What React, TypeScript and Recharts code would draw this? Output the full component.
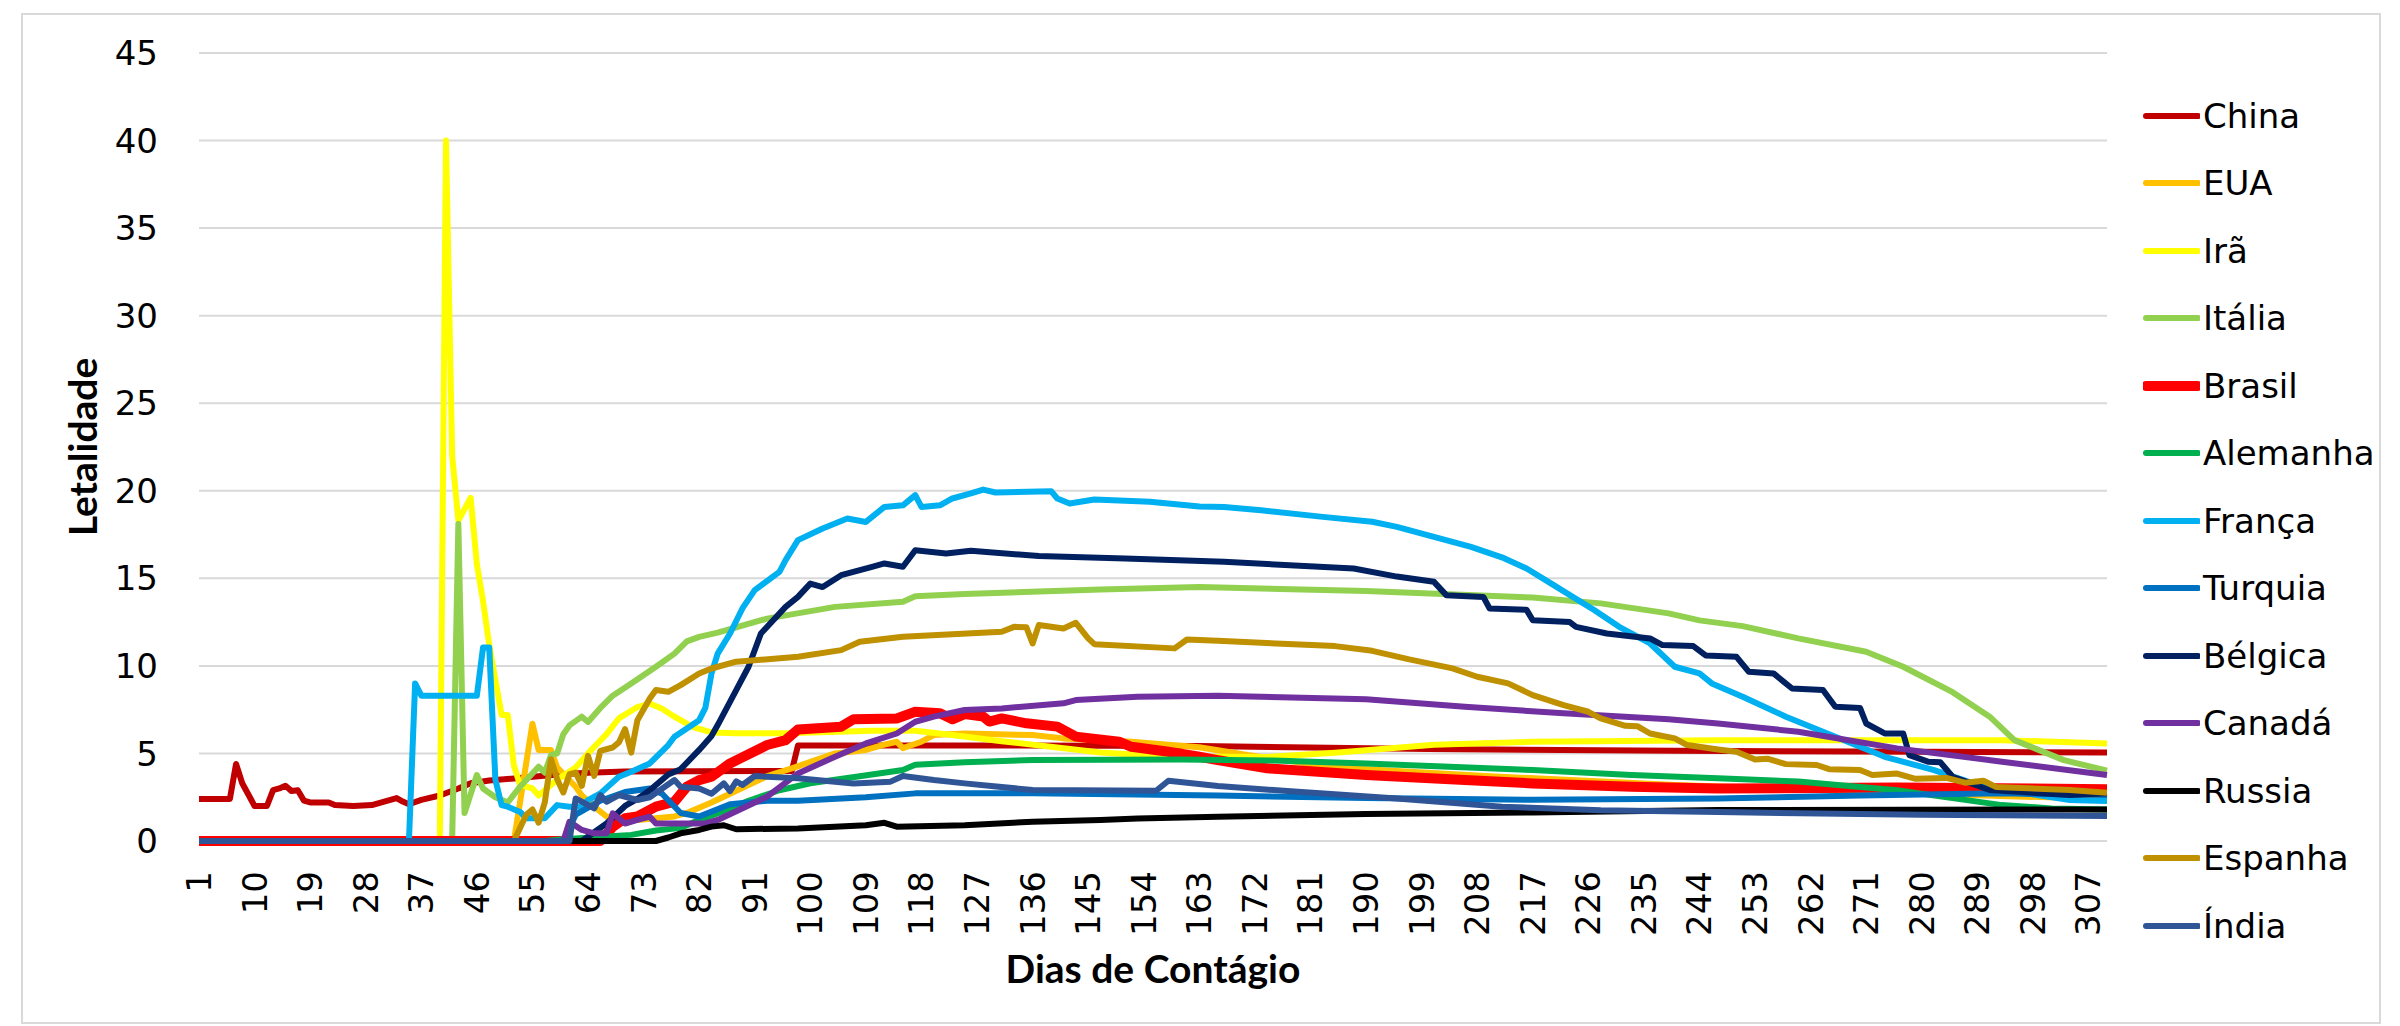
import { LineChart, Line, XAxis, YAxis, CartesianGrid, Legend } from 'recharts'

// dias de contágio (eixo x) e letalidade (%)
const dayTicks = [1, 10, 19, 28, 37, 46, 55, 64, 73, 82, 91, 100, 109, 118, 127, 136, 145, 154, 163, 172, 181, 190, 199, 208, 217, 226, 235, 244, 253, 262, 271, 280, 289, 298, 307]
const yTicks = [0, 5, 10, 15, 20, 25, 30, 35, 40, 45]

const china = [[1, 2.4], [6, 2.4], [7, 4.4], [8, 3.3], [10, 2.0], [12, 2.0], [13, 2.9], [14, 3.0], [15, 3.15], [16, 2.85], [17, 2.9], [18, 2.3], [19, 2.2], [22, 2.2], [23, 2.05], [26, 2.0], [29, 2.05], [31, 2.25], [33, 2.45], [34, 2.25], [35, 2.1], [37, 2.35], [40, 2.6], [43, 3.0], [45, 3.3], [48, 3.45], [53, 3.6], [59, 3.8], [64, 3.9], [70, 3.97], [97, 4.0], [98, 5.45], [130, 5.45], [163, 5.42], [200, 5.25], [240, 5.15], [280, 5.1], [310, 5.05]]
const eua = [[1, 0], [52, 0], [55, 6.7], [56, 5.2], [58, 5.2], [59, 4.2], [62, 3.1], [63, 2.6], [65, 1.96], [67, 1.4], [72, 1.2], [75, 1.3], [78, 1.4], [80, 1.6], [84, 2.2], [87, 2.7], [93, 3.7], [97, 4.15], [104, 5.0], [109, 5.2], [112, 5.5], [114, 5.67], [115, 5.3], [118, 5.67], [120, 6.05], [125, 6.14], [136, 6.05], [141, 5.86], [152, 5.67], [163, 5.35], [171, 4.9], [185, 4.2], [210, 3.7], [240, 3.2], [270, 2.85], [290, 2.6], [310, 2.4]]
const ira = [[1, 0], [40, 0], [41, 40], [42, 22], [43, 18.3], [45, 19.6], [46, 15.8], [47, 13.7], [48, 11.2], [49, 9.2], [50, 7.2], [51, 7.2], [52, 4.3], [53, 3.2], [55, 3.0], [56, 2.6], [58, 3.2], [59, 3.5], [62, 4.2], [64, 5.0], [67, 6.1], [69, 7.0], [72, 7.65], [74, 7.85], [76, 7.55], [78, 7.1], [81, 6.5], [84, 6.2], [88, 6.15], [96, 6.15], [110, 6.3], [117, 6.3], [123, 6.05], [131, 5.7], [147, 5.05], [158, 4.82], [174, 4.8], [185, 5.04], [201, 5.5], [217, 5.67], [247, 5.76], [293, 5.76], [310, 5.57]]
const italia = [[1, 0], [42, 0], [43, 18.1], [44, 1.6], [46, 3.77], [47, 3.0], [49, 2.5], [51, 2.2], [53, 3.1], [56, 4.24], [57, 3.9], [58, 4.9], [59, 5.0], [60, 6.1], [61, 6.6], [63, 7.1], [64, 6.8], [66, 7.6], [68, 8.3], [71, 9.0], [75, 9.95], [78, 10.7], [80, 11.4], [82, 11.66], [85, 11.9], [93, 12.7], [104, 13.37], [115, 13.66], [117, 13.98], [125, 14.1], [147, 14.36], [163, 14.5], [190, 14.28], [217, 13.9], [228, 13.57], [239, 13.0], [244, 12.6], [251, 12.27], [260, 11.57], [271, 10.81], [277, 9.95], [285, 8.5], [291, 7.1], [295, 5.76], [303, 4.62], [310, 4.02]]
const brasil = [[1, 0], [66, 0], [68, 0.8], [70, 1.3], [72, 1.4], [75, 1.96], [78, 2.24], [80, 3.1], [82, 3.48], [84, 3.67], [87, 4.43], [93, 5.48], [96, 5.76], [98, 6.37], [105, 6.53], [107, 6.95], [114, 7.0], [117, 7.38], [121, 7.29], [123, 6.95], [125, 7.25], [128, 7.1], [129, 6.82], [131, 7.0], [135, 6.72], [140, 6.53], [143, 5.96], [150, 5.67], [152, 5.38], [158, 5.1], [163, 4.81], [166, 4.62], [174, 4.15], [190, 3.77], [206, 3.48], [217, 3.29], [233, 3.1], [247, 3.0], [276, 3.05], [310, 2.96]]
const alemanha = [[1, 0], [57, 0], [60, 0.1], [71, 0.35], [75, 0.6], [79, 0.75], [82, 1.2], [86, 1.7], [90, 2.3], [95, 2.9], [100, 3.3], [108, 3.7], [115, 4.05], [117, 4.35], [125, 4.5], [136, 4.62], [160, 4.65], [175, 4.6], [190, 4.43], [217, 4.05], [233, 3.77], [247, 3.58], [260, 3.4], [276, 2.9], [287, 2.35], [293, 2.05], [301, 1.86], [310, 1.8]]
const franca = [[1, 0], [35, 0], [36, 9.0], [37, 8.3], [46, 8.3], [47, 11.05], [48, 11.05], [49, 3.5], [50, 2.05], [51, 1.96], [53, 1.66], [54, 1.3], [57, 1.3], [59, 2.05], [61, 1.96], [63, 1.96], [64, 2.34], [66, 2.72], [69, 3.67], [71, 3.96], [74, 4.43], [77, 5.48], [78, 5.95], [80, 6.43], [82, 6.9], [83, 7.6], [84, 9.57], [85, 10.7], [87, 11.85], [89, 13.28], [91, 14.33], [95, 15.37], [96, 16.04], [98, 17.18], [102, 17.85], [106, 18.42], [109, 18.22], [112, 19.08], [115, 19.17], [117, 19.75], [118, 19.08], [121, 19.17], [123, 19.56], [126, 19.85], [128, 20.07], [130, 19.9], [139, 19.98], [140, 19.56], [142, 19.27], [146, 19.5], [155, 19.37], [163, 19.1], [167, 19.08], [173, 18.89], [183, 18.51], [191, 18.23], [195, 17.94], [201, 17.37], [207, 16.8], [212, 16.2], [216, 15.56], [220, 14.7], [227, 13.18], [231, 12.23], [236, 11.28], [240, 9.95], [244, 9.57], [246, 9.0], [251, 8.24], [258, 7.1], [266, 5.95], [274, 4.81], [282, 4.05], [290, 3.09], [304, 2.34], [310, 2.29]]
const turquia = [[1, 0], [60, 0], [62, 1.5], [66, 2.3], [70, 2.8], [74, 3.0], [76, 2.7], [79, 1.6], [82, 1.4], [87, 2.1], [93, 2.3], [98, 2.3], [109, 2.5], [117, 2.72], [136, 2.72], [166, 2.6], [190, 2.45], [217, 2.35], [247, 2.43], [270, 2.6], [293, 2.72], [310, 2.62]]
const belgica = [[1, 0], [63, 0], [65, 0.5], [67, 1.0], [70, 2.0], [72, 2.4], [74, 2.9], [77, 3.8], [79, 4.1], [82, 5.2], [84, 6.0], [85, 6.62], [88, 8.62], [90, 9.95], [92, 11.85], [96, 13.37], [98, 13.94], [100, 14.7], [102, 14.5], [105, 15.18], [110, 15.66], [112, 15.85], [115, 15.66], [117, 16.6], [122, 16.42], [126, 16.57], [137, 16.27], [151, 16.13], [167, 15.94], [188, 15.56], [195, 15.1], [201, 14.8], [203, 14.04], [209, 13.94], [210, 13.28], [216, 13.2], [217, 12.61], [223, 12.5], [224, 12.23], [229, 11.85], [236, 11.57], [238, 11.19], [243, 11.13], [245, 10.6], [250, 10.52], [252, 9.66], [256, 9.57], [259, 8.71], [264, 8.62], [266, 7.67], [270, 7.6], [271, 6.71], [274, 6.14], [277, 6.14], [278, 4.9], [281, 4.53], [283, 4.5], [285, 3.67], [291, 2.91], [304, 2.62], [310, 2.72]]
const canada = [[1, 0], [60, 0], [61, 1.1], [63, 0.63], [65, 0.44], [67, 0.44], [68, 1.58], [70, 1.0], [72, 1.2], [74, 1.39], [75, 1.0], [83, 1.0], [85, 1.2], [93, 2.53], [98, 3.86], [104, 4.81], [109, 5.57], [114, 6.14], [117, 6.81], [120, 7.1], [125, 7.48], [131, 7.57], [141, 7.86], [143, 8.05], [153, 8.24], [166, 8.3], [190, 8.09], [206, 7.67], [222, 7.29], [239, 6.95], [247, 6.71], [260, 6.24], [276, 5.29], [293, 4.53], [310, 3.77]]
const russia = [[1, 0], [75, 0], [77, 0.2], [79, 0.44], [82, 0.63], [84, 0.82], [86, 0.9], [88, 0.67], [98, 0.72], [109, 0.9], [112, 1.04], [114, 0.82], [125, 0.9], [136, 1.1], [147, 1.2], [153, 1.29], [166, 1.39], [190, 1.54], [217, 1.63], [247, 1.77], [310, 1.8]]
const espanha = [[1, 0], [52, 0], [54, 1.5], [55, 1.8], [56, 1.05], [57, 2.2], [58, 4.67], [59, 3.53], [60, 2.77], [61, 3.82], [62, 3.91], [63, 3.15], [64, 4.86], [65, 3.72], [66, 5.15], [68, 5.34], [69, 5.63], [70, 6.39], [71, 5.05], [72, 6.9], [74, 8.14], [75, 8.62], [77, 8.52], [79, 8.9], [82, 9.57], [84, 9.85], [88, 10.24], [98, 10.52], [105, 10.9], [108, 11.38], [115, 11.66], [131, 11.95], [133, 12.23], [135, 12.2], [136, 11.28], [137, 12.33], [141, 12.14], [143, 12.46], [145, 11.57], [146, 11.24], [159, 11.0], [161, 11.51], [166, 11.43], [185, 11.13], [191, 10.86], [197, 10.37], [204, 9.86], [208, 9.38], [213, 9.0], [217, 8.33], [222, 7.76], [226, 7.38], [228, 7.0], [232, 6.58], [234, 6.55], [236, 6.14], [240, 5.86], [242, 5.48], [247, 5.23], [250, 5.1], [253, 4.66], [255, 4.7], [258, 4.39], [263, 4.34], [265, 4.1], [270, 4.05], [272, 3.77], [276, 3.85], [279, 3.55], [284, 3.6], [287, 3.33], [290, 3.44], [292, 3.09], [304, 2.91], [310, 2.76]]
const india = [[1, 0], [61, 0], [62, 2.43], [65, 1.86], [66, 2.62], [67, 2.24], [69, 2.62], [72, 2.34], [74, 2.5], [78, 3.48], [79, 3.1], [82, 3.0], [84, 2.7], [86, 3.29], [87, 2.85], [88, 3.4], [89, 3.2], [91, 3.71], [98, 3.58], [107, 3.29], [113, 3.39], [115, 3.71], [120, 3.48], [125, 3.29], [136, 2.91], [156, 2.87], [158, 3.44], [166, 3.14], [179, 2.81], [195, 2.43], [212, 1.96], [228, 1.75], [247, 1.65], [280, 1.5], [310, 1.43]]

const series = [
    { name: 'China', color: '#C00000', width: 6, points: china },
    { name: 'EUA', color: '#FFC000', width: 6, points: eua },
    { name: 'Irã', color: '#FFFF00', width: 6, points: ira },
    { name: 'Itália', color: '#92D050', width: 6, points: italia },
    { name: 'Brasil', color: '#FF0000', width: 10, points: brasil },
    { name: 'Alemanha', color: '#00B050', width: 6, points: alemanha },
    { name: 'França', color: '#00B0F0', width: 6, points: franca },
    { name: 'Turquia', color: '#0070C0', width: 6, points: turquia },
    { name: 'Bélgica', color: '#002060', width: 6, points: belgica },
    { name: 'Canadá', color: '#7030A0', width: 6, points: canada },
    { name: 'Russia', color: '#000000', width: 6, points: russia },
    { name: 'Espanha', color: '#BF9000', width: 6, points: espanha },
    { name: 'Índia', color: '#2F5597', width: 6, points: india },
]

const font = '"DejaVu Sans", Verdana, sans-serif'
const titleFont = 'Lato, "Open Sans", sans-serif'

const DayTick = ({ x, y, payload }: any) => (
    <text
        x={x}
        y={y + 30}
        transform={`rotate(-90 ${x} ${y + 30})`}
        textAnchor="end"
        dominantBaseline="central"
        fontSize={34}
        fontFamily={font}
        fill="#000"
    >
        {payload.value}
    </text>
)

const renderLegend = () => (
    <div style={{ fontFamily: font, fontSize: 34, color: '#000' }}>
        {series.map((s) => (
            <div key={s.name} style={{ height: 67.5, display: 'flex', alignItems: 'center' }}>
                <svg width={57} height={14}>
                    <line x1={3} x2={55} y1={7} y2={7} stroke={s.color} strokeWidth={s.width} strokeLinecap="round" />
                </svg>
                <span style={{ marginLeft: 3, lineHeight: 1 }}>{s.name}</span>
            </div>
        ))}
    </div>
)

const App = () => {
    return (
        <div style={{ position: 'absolute', left: 0, top: 0, width: 2400, height: 1026, background: '#fff' }}>
            <LineChart width={2400} height={1026} margin={{ top: 53, right: 293, bottom: 35, left: 0 }}>
                <CartesianGrid vertical={false} stroke="#d9d9d9" strokeWidth={2} />
                <XAxis
                    type="number"
                    dataKey="d"
                    domain={[1, 310]}
                    ticks={dayTicks}
                    interval={0}
                    height={150}
                    tickSize={0}
                    tickMargin={0}
                    tick={<DayTick />}
                    axisLine={false}
                    tickLine={false}
                    label={() => (
                        <text x={1153} y={983} textAnchor="middle" fontFamily={titleFont} fontWeight={700} fontSize={39} fill="#000">
                            Dias de Contágio
                        </text>
                    )}
                />
                <YAxis
                    type="number"
                    domain={[0, 45]}
                    ticks={yTicks}
                    interval={0}
                    width={199}
                    tickSize={0}
                    tickMargin={41}
                    axisLine={false}
                    tickLine={false}
                    tick={{ fontSize: 34, fontFamily: font, fill: '#000' }}
                    label={() => (
                        <text x={97} y={447} transform="rotate(-90 97 447)" textAnchor="middle" fontFamily={titleFont} fontWeight={700} fontSize={39} fill="#000">
                            Letalidade
                        </text>
                    )}
                />
                <Legend
                    layout="vertical"
                    align="center"
                    verticalAlign="middle"
                    content={renderLegend}
                    wrapperStyle={{ left: 2143, top: 82, width: 257 }}
                />
                {series.map((s) => (
                    <Line
                        key={s.name}
                        name={s.name}
                        data={s.points.map(([d, v]) => ({ d, v }))}
                        dataKey="v"
                        type="linear"
                        stroke={s.color}
                        strokeWidth={s.width}
                        strokeLinejoin="round"
                        dot={false}
                        activeDot={false}
                        isAnimationActive={false}
                    />
                ))}
            </LineChart>
            <div
                style={{
                    position: 'absolute',
                    left: 21,
                    top: 13,
                    width: 2356,
                    height: 1007,
                    border: '2px solid #d9d9d9',
                    pointerEvents: 'none',
                }}
            />
        </div>
    )
}

export default App
